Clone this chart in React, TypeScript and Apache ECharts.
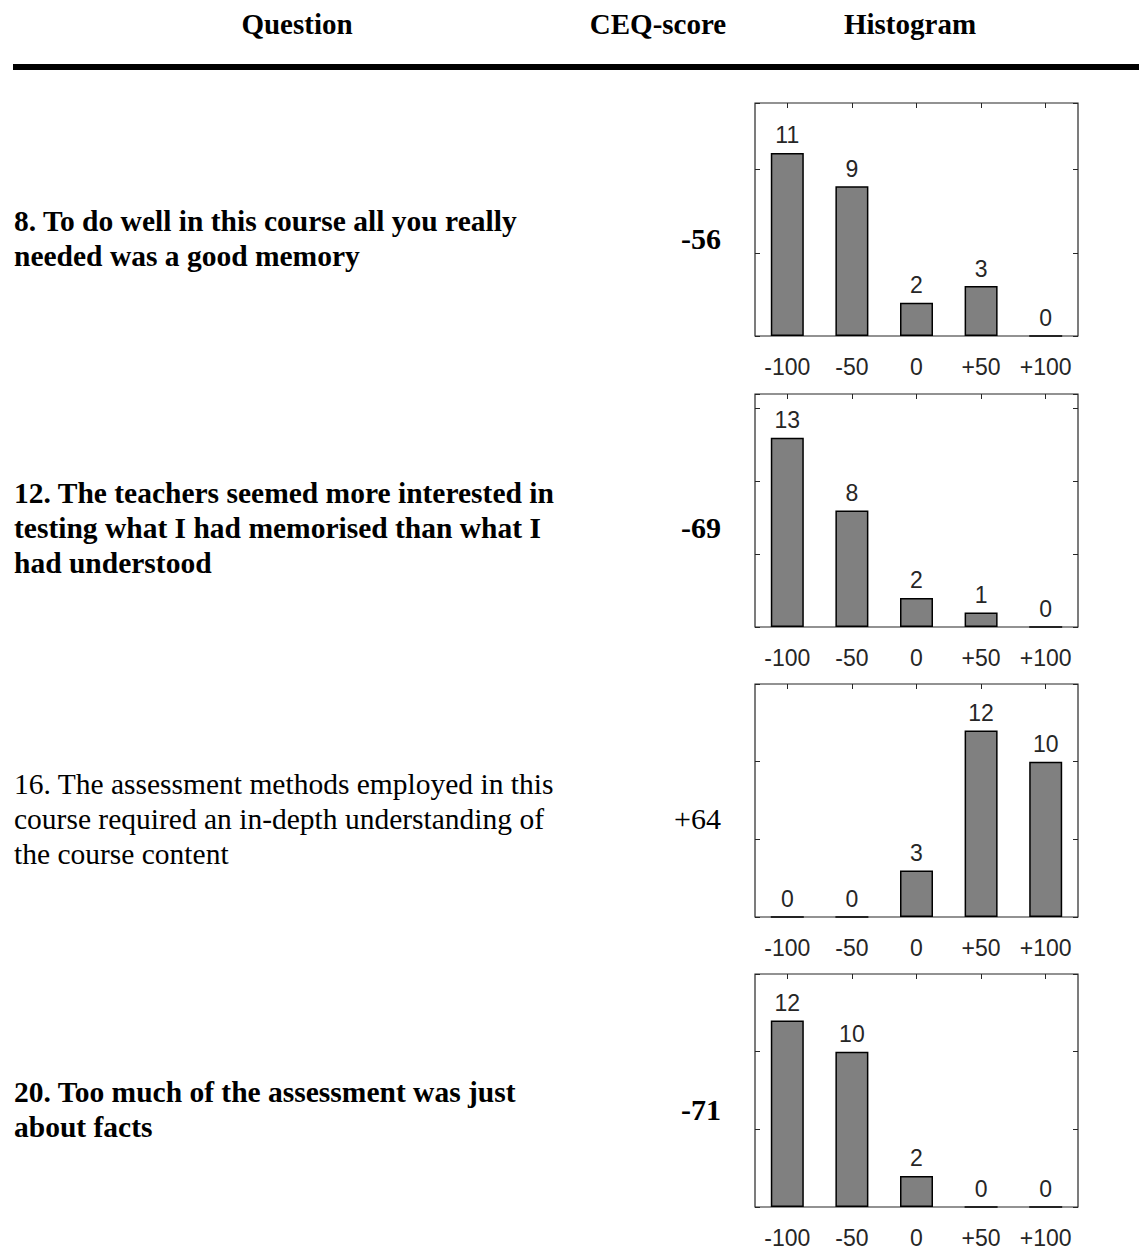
import React, { useEffect, useRef } from "react";
import * as echarts from "echarts";

const categories = ["-100", "-50", "0", "+50", "+100"];
const q8Counts = [11, 9, 2, 3, 0];
const q12Counts = [13, 8, 2, 1, 0];
const q16Counts = [0, 0, 3, 12, 10];
const q20Counts = [12, 10, 2, 0, 0];
const yMaxes = [14, 16, 15, 15];

const headers = ["Question", "CEQ-score", "Histogram"];
const questionLines = [
  ["8. To do well in this course all you really", "needed was a good memory"],
  ["12. The teachers seemed more interested in", "testing what I had memorised than what I", "had understood"],
  ["16. The assessment methods employed in this", "course required an in-depth understanding of", "the course content"],
  ["20. Too much of the assessment was just", "about facts"],
];
const scores = ["-56", "-69", "+64", "-71"];
const boldRows = [true, true, false, true];

export default function App() {
  const ref = useRef<HTMLDivElement>(null);
  useEffect(() => {
    if (!ref.current) return;
    const chart = echarts.init(ref.current, undefined, { renderer: "svg" });
    const allCounts = [q8Counts, q12Counts, q16Counts, q20Counts];
    const gridTops = [103, 394, 684, 974];
    const firstLineCenters = [221, 493, 784, 1092];
    const scoreCenters = [239, 528, 819, 1110];
    const textColor = "#262626";
    const labelFont = "'Liberation Sans', Arial, sans-serif";
    const serif = "'Liberation Serif', 'Times New Roman', serif";

    const grids: any[] = [];
    const xAxes: any[] = [];
    const yAxes: any[] = [];
    const series: any[] = [];
    allCounts.forEach((counts, i) => {
      grids.push({
        left: 755,
        top: gridTops[i],
        width: 323,
        height: 233,
        show: true,
        borderColor: textColor,
        borderWidth: 1.2,
        backgroundColor: "#fff",
      });
      xAxes.push({
        type: "category",
        gridIndex: i,
        data: categories,
        position: "bottom",
        axisLine: { show: false, onZero: false },
        axisTick: { show: false },
        axisLabel: {
          color: textColor,
          fontSize: 23,
          fontFamily: labelFont,
          margin: 19,
          interval: 0,
          hideOverlap: false,
        },
      });
      xAxes.push({
        type: "category",
        gridIndex: i,
        data: categories,
        position: "top",
        axisLine: { show: false, onZero: false },
        axisTick: {
          show: true,
          inside: true,
          alignWithLabel: true,
          interval: 0,
          length: 5,
          lineStyle: { color: textColor },
        },
        axisLabel: { show: false, interval: 0 },
      });
      const yCommon = {
        type: "value",
        gridIndex: i,
        min: 0,
        max: yMaxes[i],
        interval: 5,
        axisLine: { show: false, onZero: false },
        axisTick: { show: true, inside: true, length: 5, lineStyle: { color: textColor } },
        axisLabel: { show: false },
        splitLine: { show: false },
      };
      yAxes.push({ ...yCommon, position: "left" });
      yAxes.push({ ...yCommon, position: "right" });
      series.push({
        type: "bar",
        xAxisIndex: i * 2,
        yAxisIndex: i * 2,
        data: counts,
        barWidth: 33,
        itemStyle: { color: "#808080", borderColor: "#000", borderWidth: 1.5 },
        label: {
          show: true,
          position: "top",
          distance: 6,
          color: textColor,
          fontSize: 23,
          fontFamily: labelFont,
        },
      });
    });

    const graphics: any[] = [];
    const headerX = [297, 658, 910];
    headers.forEach((h, i) => {
      graphics.push({
        type: "text",
        x: headerX[i],
        y: 24,
        style: {
          text: h,
          fontFamily: serif,
          fontWeight: "bold",
          fontSize: 29,
          fill: "#000",
          align: "center",
          verticalAlign: "middle",
        },
      });
    });
    graphics.push({ type: "rect", shape: { x: 13, y: 64, width: 1126, height: 6 }, style: { fill: "#000" } });
    questionLines.forEach((lines, i) => {
      graphics.push({
        type: "text",
        x: 14,
        y: firstLineCenters[i] - 17.5,
        style: {
          text: lines.join("\n"),
          fontFamily: serif,
          fontWeight: boldRows[i] ? "bold" : "normal",
          fontSize: 29.5,
          lineHeight: 35,
          fill: "#000",
          align: "left",
          verticalAlign: "top",
        },
      });
      graphics.push({
        type: "text",
        x: 721,
        y: scoreCenters[i] - 1,
        style: {
          text: scores[i],
          fontFamily: serif,
          fontWeight: boldRows[i] ? "bold" : "normal",
          fontSize: 30,
          fill: "#000",
          align: "right",
          verticalAlign: "middle",
        },
      });
    });

    chart.setOption({
      animation: false,
      backgroundColor: "#fff",
      grid: grids,
      xAxis: xAxes,
      yAxis: yAxes,
      series,
      graphic: graphics,
    });
    return () => chart.dispose();
  }, []);
  return (
    <div
      ref={ref}
      style={{ position: "absolute", left: 0, top: 0, width: 1139, height: 1249 }}
    />
  );
}
